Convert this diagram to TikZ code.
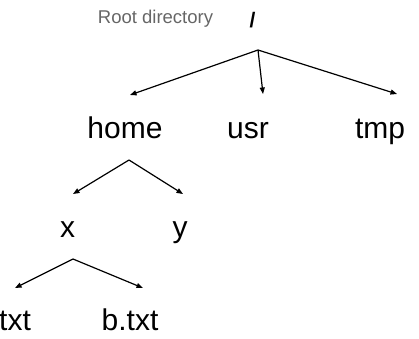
\documentclass[tikz,border=0pt]{standalone}
\usepackage{fontspec}
\setmainfont{Liberation Sans}
\usetikzlibrary{arrows.meta}
\begin{document}
\begin{tikzpicture}[x=1pt,y=-1pt,
  lbl/.style={anchor=base,inner sep=0pt,font=\fontsize{30}{32}\selectfont},
  conn/.style={draw,line width=1.2pt,-{Triangle[length=6.5pt,width=5pt]}}]
\useasboundingbox (0,0) rectangle (419,338);
\node[anchor=base,inner sep=0pt,text=black!60,font=\fontsize{18.5}{20}\selectfont] (rootlbl) at (155.5,23) {Root directory};
\node[anchor=base,inner sep=0pt,font=\bfseries\fontsize{21}{22}\selectfont] (root) at (252.5,27.5) {/};
\node[lbl] (home) at (125,138) {home};
\node[lbl] (usr) at (248,138) {usr};
\node[lbl] (tmp) at (380,138) {tmp};
\node[lbl] (x) at (67.5,237) {x};
\node[lbl] (y) at (180,237) {y};
\node[lbl,anchor=base west] (atxt) at (-1,330) {txt};
\node[lbl] (btxt) at (130,330) {b.txt};
\coordinate (rootapex) at (258,50);
\coordinate (hometip) at (130,95);
\coordinate (usrtip) at (263,94);
\coordinate (tmptip) at (397,94);
\coordinate (homeapex) at (129,160);
\coordinate (xtip) at (73,194);
\coordinate (ytip) at (183,194);
\coordinate (xapex) at (73,259);
\coordinate (atip) at (15,288);
\coordinate (btip) at (143,288);
\draw[conn] (rootapex) -- (hometip);
\draw[conn] (rootapex) -- (usrtip);
\draw[conn] (rootapex) -- (tmptip);
\draw[conn] (homeapex) -- (xtip);
\draw[conn] (homeapex) -- (ytip);
\draw[conn] (xapex) -- (atip);
\draw[conn] (xapex) -- (btip);
\end{tikzpicture}
\end{document}
